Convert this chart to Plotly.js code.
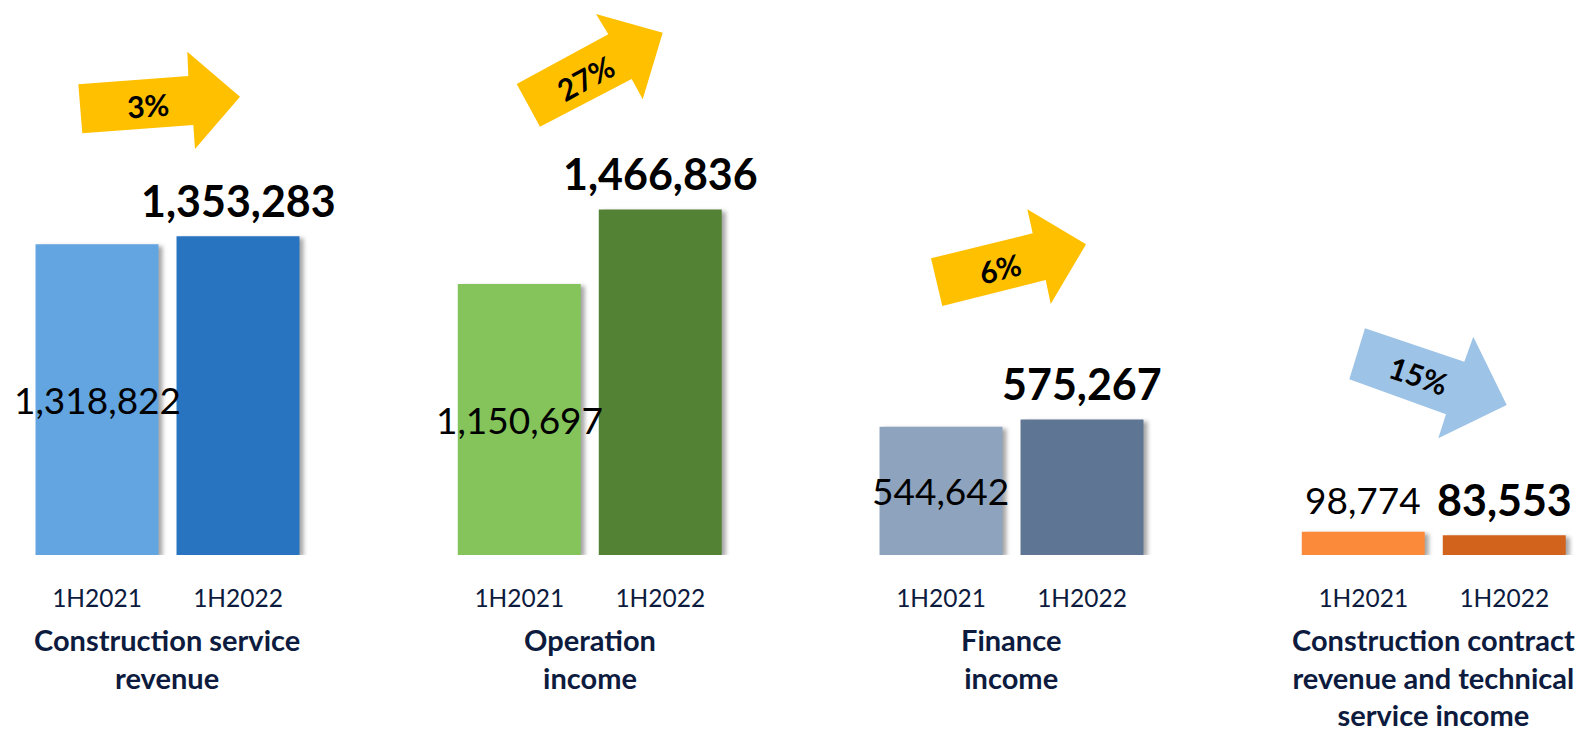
<!DOCTYPE html>
<html>
<head>
<meta charset="utf-8">
<script src="https://cdn.plot.ly/plotly-3.0.1.min.js"></script>
<style>
  html, body { margin: 0; padding: 0; background: #ffffff; }
  #chart { width: 1587px; height: 730px; }
  .js-plotly-plot .bars .point path { filter: drop-shadow(4px 2px 2px rgba(0,0,0,0.35)); }
</style>
</head>
<body>
<div id="chart"></div>
<script>
// ---- data ----
const periods = ['1H2021', '1H2022'];
const groupNames = [
  'Construction service<br>revenue',
  'Operation<br>income',
  'Finance<br>income',
  'Construction contract<br>revenue and technical<br>service income'
];
const values2021 = [1318822, 1150697, 544642, 98774];
const values2022 = [1353283, 1466836, 575267, 83553];
const changes = ['3%', '27%', '6%', '15%'];
const colors2021 = ['#63A5E1', '#84C45A', '#8EA3BE', '#FB8A3A'];
const colors2022 = ['#2874C0', '#548235', '#5F7594', '#D2631D'];

// ---- layout helpers ----
const W = 1587, H = 730, plotBottom = 555;
const px = x => x / W;
const py = y => (plotBottom - y) / plotBottom;
const fmt = v => v.toLocaleString('en-US');
const navy = '#0D1B3E';
const FONT = 'Lato, sans-serif';

const domains = [[26.5, 308.5], [448.75, 730.75], [870.5, 1152.5], [1292.75, 1574.75]];

const traces = [];
const layout = {
  width: W, height: H,
  margin: {l: 0, r: 0, t: 0, b: H - plotBottom, pad: 0},
  paper_bgcolor: '#ffffff', plot_bgcolor: '#ffffff',
  showlegend: false,
  bargap: 0.128,
  font: {family: FONT, color: '#000000'},
  yaxis: {range: [0, 2356000], visible: false, fixedrange: true},
  annotations: [],
  shapes: []
};

for (let g = 0; g < 4; g++) {
  const ax = g === 0 ? 'x' : 'x' + (g + 1);
  const axName = g === 0 ? 'xaxis' : 'xaxis' + (g + 1);
  const small = values2021[g] < 300000;
  traces.push({
    type: 'bar',
    x: periods,
    y: [values2021[g], values2022[g]],
    xaxis: ax, yaxis: 'y',
    marker: {color: [colors2021[g], colors2022[g]], line: {width: 0}},
    cliponaxis: false,
    hoverinfo: 'skip'
  });
  // 1H2021 label: centred in the bar, or above it when the bar is too short
  layout.annotations.push({
    xref: ax, yref: 'y', x: periods[0],
    y: small ? values2021[g] : values2021[g] / 2,
    xanchor: 'center', yanchor: small ? 'bottom' : 'middle',
    yshift: small ? 8 : 0, showarrow: false,
    text: fmt(values2021[g]),
    font: {family: FONT, size: 37, color: '#000000'}
  });
  // 1H2022 label above the bar
  layout.annotations.push({
    xref: ax, yref: 'y', x: periods[1], y: values2022[g],
    xanchor: 'center', yanchor: 'bottom', yshift: 8, showarrow: false,
    text: '<b>' + fmt(values2022[g]) + '</b>',
    font: {family: FONT, size: 43, color: '#000000'}
  });
  layout[axName] = {
    domain: [px(domains[g][0]), px(domains[g][1])],
    anchor: 'y',
    type: 'category',
    categoryorder: 'array', categoryarray: periods,
    range: [-0.5, 1.5], autorange: false,
    showgrid: false, zeroline: false, showline: false,
    ticks: 'outside', ticklen: 22, tickcolor: 'rgba(0,0,0,0)',
    tickfont: {family: FONT, size: 24.5, color: navy},
    fixedrange: true
  };
  layout.annotations.push({
    xref: ax + ' domain', yref: 'paper',
    x: 0.5, y: py(620), xanchor: 'center', yanchor: 'top',
    text: '<b>' + groupNames[g] + '</b>',
    showarrow: false, align: 'center',
    font: {family: FONT, size: 29, color: navy}
  });
}

// ---- change arrows (decoration) ----
const arrows = [
  {pts: [[78.3,84.3],[188.3,76],[187.3,51.7],[240,96.7],[195,149],[193.3,125],[82.3,133.3]],
   color: '#FFC000', tx: 148, ty: 105, angle: -4},
  {pts: [[516.7,84],[608.3,34.3],[596,14],[662.7,32.7],[642.7,99.3],[631.7,79],[540,126.7]],
   color: '#FFC000', tx: 585, ty: 78.3, angle: -28.5},
  {pts: [[931,258.3],[1032.7,233.3],[1027.3,209.3],[1086,244.3],[1050.7,304],[1045.7,280],[942.3,306]],
   color: '#FFC000', tx: 1000, ty: 268.3, angle: -13.8},
  {pts: [[1365,328.3],[1464.3,361.7],[1473.3,336.7],[1506.7,405],[1438.3,438.3],[1446,414.3],[1349.3,379.3]],
   color: '#9DC3E6', tx: 1418.3, ty: 375, angle: 18.6}
];
arrows.forEach((a, i) => {
  const path = a.pts.map((p, k) => (k === 0 ? 'M ' : 'L ') + px(p[0]).toFixed(5) + ' ' + py(p[1]).toFixed(5)).join(' ') + ' Z';
  layout.shapes.push({type: 'path', xref: 'paper', yref: 'paper', path: path,
    fillcolor: a.color, line: {width: 0}, layer: 'above'});
  layout.annotations.push({
    xref: 'paper', yref: 'paper', x: px(a.tx), y: py(a.ty),
    xanchor: 'center', yanchor: 'middle', showarrow: false,
    text: '<b>' + changes[i] + '</b>', textangle: a.angle,
    font: {family: FONT, size: 30, color: '#000000'}
  });
});

Plotly.newPlot('chart', traces, layout, {displayModeBar: false, staticPlot: true});
</script>
</body>
</html>
